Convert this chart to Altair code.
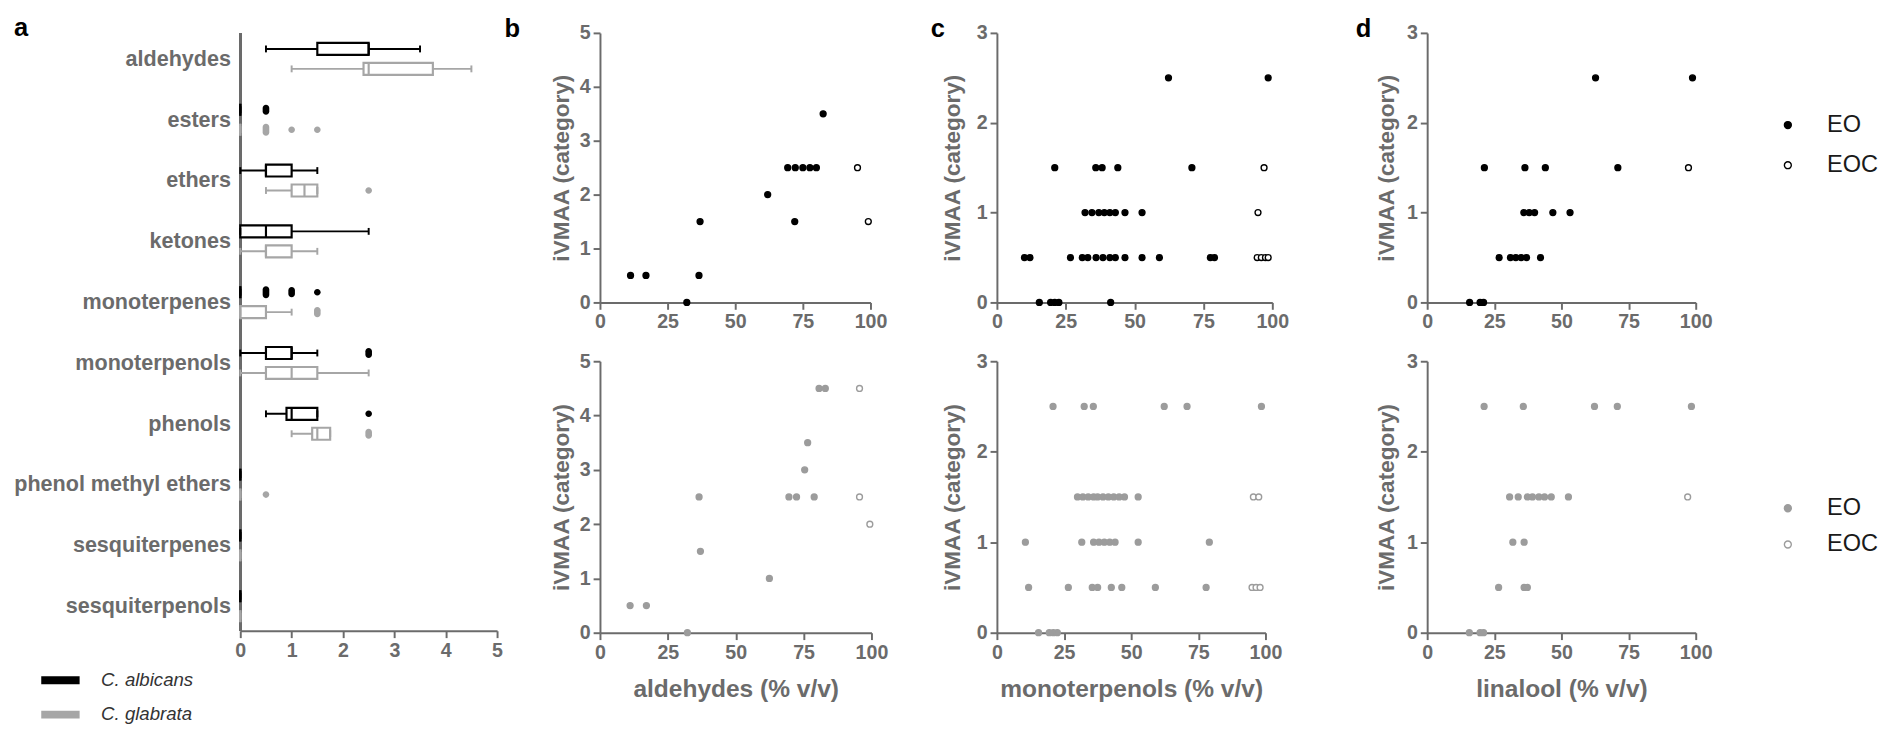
import altair as alt
import pandas as pd

FONT = "Liberation Sans"
AXC = "#6b6b6b"
BLACK = "#000000"
GREY = "#a6a6a6"
PTGREY = "#9c9c9c"

# ---------------- panel a : box plots ----------------
categories = ["aldehydes", "esters", "ethers", "ketones", "monoterpenes",
              "monoterpenols", "phenols", "phenol methyl ethers",
              "sesquiterpenes", "sesquiterpenols"]
species = ["C. albicans", "C. glabrata"]

alb_min = [0.5, 0, 0, 0, 0, 0, 0.5, 0, 0, 0]
alb_q1 = [1.5, 0, 0.5, 0, 0, 0.5, 0.9, 0, 0, 0]
alb_med = [2.5, 0, 0.5, 0.5, 0, 1.0, 1.0, 0, 0, 0]
alb_q3 = [2.5, 0, 1.0, 1.0, 0, 1.0, 1.5, 0, 0, 0]
alb_max = [3.5, 0, 1.5, 2.5, 0, 1.5, 1.5, 0, 0, 0]

gla_min = [1.0, 0, 0.5, 0, 0, 0, 1.0, 0, 0, 0]
gla_q1 = [2.4, 0, 1.0, 0.5, 0, 0.5, 1.4, 0, 0, 0]
gla_med = [2.5, 0, 1.25, 0.5, 0, 1.0, 1.5, 0, 0, 0]
gla_q3 = [3.75, 0, 1.5, 1.0, 0.5, 1.5, 1.75, 0, 0, 0]
gla_max = [4.5, 0, 1.5, 1.5, 1.0, 2.5, 1.75, 0, 0, 0]

# outliers: category, species, value, number of stacked points
out_cat = ["esters", "monoterpenes", "monoterpenes", "monoterpenes", "monoterpenols", "phenols",
           "esters", "esters", "esters", "ethers", "monoterpenes", "phenols", "phenol methyl ethers"]
out_sp = ["C. albicans"] * 6 + ["C. glabrata"] * 7
out_val = [0.5, 0.5, 1.0, 1.5, 2.5, 2.5,
           0.5, 1.0, 1.5, 2.5, 1.5, 2.5, 0.5]
out_n = [2, 3, 2, 1, 2, 1,
         3, 1, 1, 1, 2, 2, 1]

rows = []
for i, c in enumerate(categories):
    rows.append(dict(cat=c, sp=species[0], lo=alb_min[i], q1=alb_q1[i], med=alb_med[i], q3=alb_q3[i], hi=alb_max[i]))
    rows.append(dict(cat=c, sp=species[1], lo=gla_min[i], q1=gla_q1[i], med=gla_med[i], q3=gla_q3[i], hi=gla_max[i]))
box_df = pd.DataFrame(rows)
out_df = pd.DataFrame(dict(cat=out_cat, sp=out_sp, v=out_val, n=out_n))

LEG_A = alt.Legend(title=None, orient="none", legendX=-202, legendY=642,
                   symbolType="M-1.35,0H1.35", symbolSize=841, symbolStrokeWidth=8,
                   labelFontSize=19, labelFontStyle="italic", labelFont=FONT,
                   labelFontWeight="normal", labelColor="#333333", labelOffset=23,
                   rowPadding=0, padding=0)
SCALE_SP = alt.Scale(domain=species, range=[BLACK, GREY])

Y_CAT = alt.Y("cat:N", sort=categories,
              scale=alt.Scale(domain=categories, paddingInner=0, paddingOuter=0, range=[-4.5, 616]),
              axis=alt.Axis(title=None, ticks=False, domain=False, labelFontSize=22,
                            labelPadding=10, labelColor=AXC, labelLimit=400))
Y_OFF = alt.YOffset("sp:N", sort=species,
                    scale=alt.Scale(domain=species, paddingInner=0.4, paddingOuter=0.725))
X_SCALE_A = alt.Scale(domain=[0, 5], nice=False)
X_AXIS_A = alt.Axis(title=None, values=[0, 1, 2, 3, 4, 5], labelFlush=False)
COL_A = alt.Color("sp:N", scale=SCALE_SP, legend=LEG_A)
STR_A = alt.Stroke("sp:N", scale=SCALE_SP, legend=LEG_A)

base_a = alt.Chart(box_df)
# vertical axis line at x = 0 spanning the whole plot height
zero_line = base_a.mark_rule(color=AXC, strokeWidth=2).encode(
    x=alt.X(datum=0, scale=X_SCALE_A, axis=X_AXIS_A))
whisk = base_a.mark_rule(strokeWidth=2).encode(
    x=alt.X("lo:Q", scale=X_SCALE_A, axis=X_AXIS_A), x2="hi:Q", y=Y_CAT, yOffset=Y_OFF, color=COL_A)
cap_lo = base_a.mark_tick(size=7, thickness=2, opacity=1).encode(
    x="lo:Q", y=Y_CAT, yOffset=Y_OFF, color=COL_A)
cap_hi = base_a.mark_tick(size=7, thickness=2, opacity=1).encode(
    x="hi:Q", y=Y_CAT, yOffset=Y_OFF, color=COL_A)
box = base_a.mark_bar(fill="white", strokeWidth=2.2).encode(
    x="q1:Q", x2="q3:Q", y=Y_CAT, yOffset=Y_OFF, stroke=STR_A)
med = base_a.mark_tick(size=12, thickness=2.2, opacity=1).encode(
    x="med:Q", y=Y_CAT, yOffset=Y_OFF, color=COL_A)

CIRC = "M-0.55,0A0.55,0.55 0 1 1 0.55,0A0.55,0.55 0 1 1 -0.55,0Z"
CAP2 = "M-0.55,-0.3A0.55,0.55 0 0 1 0.55,-0.3L0.55,0.3A0.55,0.55 0 0 1 -0.55,0.3Z"
CAP3 = "M-0.55,-0.45A0.55,0.55 0 0 1 0.55,-0.45L0.55,0.45A0.55,0.55 0 0 1 -0.55,0.45Z"
outl = alt.Chart(out_df).mark_point(filled=True, size=150, strokeWidth=0, opacity=1).encode(
    x="v:Q", y=Y_CAT, yOffset=Y_OFF, color=COL_A,
    shape=alt.Shape("n:O", scale=alt.Scale(domain=[1, 2, 3], range=[CIRC, CAP2, CAP3]), legend=None))

panel_a = alt.layer(zero_line, whisk, box, cap_lo, cap_hi, med, outl).properties(
    width=262, height=610,
    title=alt.TitleParams("a", anchor="start", frame="group", dx=-231, offset=-9))

# ---------------- scatter panels ----------------
b_top_eo_x = [11.3, 17.0, 36.6, 32.1, 37.0, 72.0, 62.0, 69.4, 72.2, 75.0, 77.6, 80.0, 82.5]
b_top_eo_y = [0.5, 0.5, 0.5, 0, 1.5, 1.5, 2.0, 2.5, 2.5, 2.5, 2.5, 2.5, 3.5]
b_top_eoc_x = [95.2, 99.2]
b_top_eoc_y = [2.5, 1.5]

b_bot_eo_x = [11.1, 17.1, 32.2, 37.0, 36.5, 69.6, 72.4, 78.9, 62.4, 75.4, 76.5, 80.7, 83.0]
b_bot_eo_y = [0.5, 0.5, 0, 1.5, 2.5, 2.5, 2.5, 2.5, 1.0, 3.0, 3.5, 4.5, 4.5]
b_bot_eoc_x = [95.6, 95.6, 99.4]
b_bot_eoc_y = [4.5, 2.5, 2.0]

c_top_eo_x = [62.3, 98.5,
              21.0, 35.9, 38.2, 43.9, 70.8,
              32.0, 34.5, 37.0, 39.0, 41.0, 43.0, 46.5, 52.7,
              10.0, 12.0, 26.7, 31.0, 33.0, 36.0, 38.5, 41.0, 43.0, 46.5, 52.7, 59.0, 77.5, 79.0,
              15.4, 19.5, 21.0, 22.5, 41.3]
c_top_eo_y = [2.5, 2.5,
              1.5, 1.5, 1.5, 1.5, 1.5,
              1.0, 1.0, 1.0, 1.0, 1.0, 1.0, 1.0, 1.0,
              0.5, 0.5, 0.5, 0.5, 0.5, 0.5, 0.5, 0.5, 0.5, 0.5, 0.5, 0.5, 0.5, 0.5,
              0, 0, 0, 0, 0]
c_top_eoc_x = [97.0, 94.8, 94.5, 96.0, 97.5, 98.5]
c_top_eoc_y = [1.5, 1.0, 0.5, 0.5, 0.5, 0.5]

c_bot_eo_x = [20.9, 32.5, 35.9, 62.3, 70.8, 98.5,
              30.0, 32.0, 34.0, 36.0, 37.5, 39.5, 41.5, 43.5, 45.5, 47.5, 52.6,
              10.6, 31.6, 36.0, 38.0, 40.0, 42.0, 44.0, 52.6, 79.1,
              11.8, 26.6, 35.5, 37.5, 42.6, 46.5, 59.0, 77.9,
              15.5, 19.5, 21.0, 22.5]
c_bot_eo_y = [2.5, 2.5, 2.5, 2.5, 2.5, 2.5,
              1.5, 1.5, 1.5, 1.5, 1.5, 1.5, 1.5, 1.5, 1.5, 1.5, 1.5,
              1.0, 1.0, 1.0, 1.0, 1.0, 1.0, 1.0, 1.0, 1.0,
              0.5, 0.5, 0.5, 0.5, 0.5, 0.5, 0.5, 0.5,
              0, 0, 0, 0]
c_bot_eoc_x = [95.5, 97.5, 95.0, 96.5, 98.0]
c_bot_eoc_y = [1.5, 1.5, 0.5, 0.5, 0.5]

d_top_eo_x = [62.7, 98.8,
              21.3, 36.4, 44.0, 71.0,
              36.0, 38.0, 40.0, 46.8, 53.2,
              26.8, 31.0, 33.0, 35.0, 37.0, 42.2,
              15.8, 19.7, 21.0]
d_top_eo_y = [2.5, 2.5,
              1.5, 1.5, 1.5, 1.5,
              1.0, 1.0, 1.0, 1.0, 1.0,
              0.5, 0.5, 0.5, 0.5, 0.5, 0.5,
              0, 0, 0]
d_top_eoc_x = [97.3]
d_top_eoc_y = [1.5]

d_bot_eo_x = [21.2, 35.8, 62.3, 70.8, 98.4,
              30.7, 33.9, 37.3, 39.2, 41.6, 43.7, 46.2, 52.6,
              31.9, 36.1,
              26.6, 36.1, 37.3,
              15.7, 19.7, 21.0]
d_bot_eo_y = [2.5, 2.5, 2.5, 2.5, 2.5,
              1.5, 1.5, 1.5, 1.5, 1.5, 1.5, 1.5, 1.5,
              1.0, 1.0,
              0.5, 0.5, 0.5,
              0, 0, 0]
d_bot_eoc_x = [97.0]
d_bot_eoc_y = [1.5]

x_titles = ["aldehydes (% v/v)", "monoterpenols (% v/v)", "linalool (% v/v)"]
types = ["EO", "EOC"]


def scatter(eo_x, eo_y, eoc_x, eoc_y, color, ymax, width, height,
            xtitle=None, legend_y=None, row_pad=16, letter=None, letter_dx=0, ytp=7):
    df = pd.DataFrame(dict(x=eo_x + eoc_x, y=eo_y + eoc_y,
                           t=[types[0]] * len(eo_x) + [types[1]] * len(eoc_x)))
    if legend_y is None:
        leg = None
    else:
        leg = alt.Legend(title=None, orient="none", legendX=356, legendY=legend_y,
                         symbolType="circle", symbolSize=50, symbolStrokeColor=color,
                         symbolStrokeWidth=1.4, labelFontSize=24, labelFont=FONT,
                         labelColor="#1a1a1a", labelFontWeight="normal",
                         labelOffset=28, rowPadding=row_pad, padding=0)
    xaxis = alt.Axis(values=[0, 25, 50, 75, 100], labelFlush=False,
                     title=xtitle if xtitle else None, titleFontSize=25, titlePadding=15)
    ch = alt.Chart(df).mark_point(filled=True, size=36, stroke=color, strokeWidth=1.4,
                                  opacity=1, clip=False).encode(
        x=alt.X("x:Q", scale=alt.Scale(domain=[0, 100], nice=False), axis=xaxis),
        y=alt.Y("y:Q", scale=alt.Scale(domain=[0, ymax], nice=False),
                axis=alt.Axis(values=list(range(ymax + 1)), title="iVMAA (category)",
                              titleFontSize=23, titlePadding=ytp)),
        fill=alt.Fill("t:N", scale=alt.Scale(domain=types, range=[color, "white"]), legend=leg),
    )
    props = dict(width=width, height=height)
    if letter:
        props["title"] = alt.TitleParams(letter, anchor="start", frame="group",
                                         dx=letter_dx, offset=-19)
    return ch.properties(**props)


b_top = scatter(b_top_eo_x, b_top_eo_y, b_top_eoc_x, b_top_eoc_y, BLACK, 5, 276, 275,
                letter="b", letter_dx=-97.5, ytp=6)
b_bot = scatter(b_bot_eo_x, b_bot_eo_y, b_bot_eoc_x, b_bot_eoc_y, PTGREY, 5, 277, 277,
                xtitle=x_titles[0], ytp=6)
c_top = scatter(c_top_eo_x, c_top_eo_y, c_top_eoc_x, c_top_eoc_y, BLACK, 3, 281, 275,
                letter="c", letter_dx=-67.5, ytp=12)
c_bot = scatter(c_bot_eo_x, c_bot_eo_y, c_bot_eoc_x, c_bot_eoc_y, PTGREY, 3, 274, 277,
                xtitle=x_titles[1], ytp=12)
d_top = scatter(d_top_eo_x, d_top_eo_y, d_top_eoc_x, d_top_eoc_y, BLACK, 3, 274, 275,
                legend_y=82, row_pad=17, letter="d", letter_dx=-73, ytp=8)
d_bot = scatter(d_bot_eo_x, d_bot_eo_y, d_bot_eoc_x, d_bot_eoc_y, PTGREY, 3, 274, 277,
                xtitle=x_titles[2], legend_y=138, row_pad=13, ytp=8)

RES = dict(fill="independent", stroke="independent", color="independent", shape="independent")


def vc(a, b):
    return alt.vconcat(a, b, spacing=20).resolve_scale(**RES).resolve_legend(
        fill="independent", stroke="independent", color="independent")


def hc(*charts, spacing):
    return alt.hconcat(*charts, spacing=spacing).resolve_scale(**RES).resolve_legend(
        fill="independent", stroke="independent", color="independent")


col_b = vc(b_top, b_bot)
col_c = vc(c_top, c_bot)
col_d = vc(d_top, d_bot)

chart = hc(panel_a, hc(col_b, hc(col_c, col_d, spacing=68), spacing=43), spacing=1).properties(
    padding={"left": 5, "top": 0, "right": 0, "bottom": 0}
).configure_view(stroke=None).configure_axis(
    domainColor=AXC, domainWidth=2, tickColor=AXC, tickWidth=2, tickSize=7,
    labelFont=FONT, labelFontSize=20, labelFontWeight="bold", labelColor=AXC, labelPadding=3,
    titleFont=FONT, titleFontWeight="bold", titleColor=AXC, grid=False, labelOverlap=False
).configure_title(font=FONT, fontSize=26, fontWeight="bold", color="#000000")

chart.save("out.html", embed_options={"renderer": "svg", "actions": False})
